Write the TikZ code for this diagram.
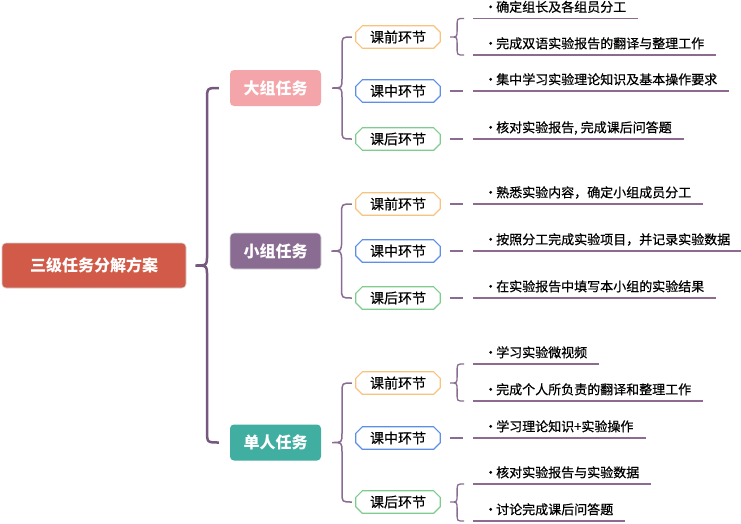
\documentclass[tikz,border=0pt]{standalone}
\usepackage{fontspec}
\setmainfont{Noto Sans CJK SC}
\newfontfamily\heavycjk{Noto Sans CJK SC}[FakeBold=0.5]
\usetikzlibrary{calc}
\definecolor{rootc}{HTML}{D15A48}
\definecolor{pinkc}{HTML}{F4A5AA}
\definecolor{purpc}{HTML}{8A6C92}
\definecolor{tealc}{HTML}{40AEA1}
\definecolor{cq}{HTML}{F8C37F}
\definecolor{cz}{HTML}{5E8FE8}
\definecolor{ch}{HTML}{80CC8E}
\definecolor{bracec}{HTML}{76587E}
\definecolor{linec}{HTML}{8E6A90}
\newcommand\leafdot{\makebox[11pt][l]{\hspace{-1pt}·}}
\newcommand\curlybrace[4]{\draw[#1] let \p1=#2, \p2=#3, \p3=#4,
  \n1={0.5*(\x1+\x2)}, \n2={0.5*(\x2-\x1)} in
  (\x2,\y2) .. controls (\n1,\y2) .. (\n1,\y2-\n2) -- (\n1,\y1+\n2)
  .. controls (\n1,\y1) .. (\x1,\y1) .. controls (\n1,\y1) .. (\n1,\y1-\n2)
  -- (\n1,\y3+\n2) .. controls (\n1,\y3) .. (\x2,\y3);}
\tikzset{
  rootbox/.style={fill=rootc, draw=black!18, line width=0.6pt, rounded corners=4pt,
    minimum width=184pt, minimum height=45pt, inner sep=0pt, text=white,
    font=\fontsize{16}{19}\selectfont\bfseries},
  grpbox/.style={fill=#1, rounded corners=4pt, minimum width=91pt, minimum height=36pt,
    inner sep=0pt, text=white, font=\fontsize{16}{19}\selectfont\bfseries},
  stagebox/.style={minimum width=84pt, minimum height=22pt, inner sep=0pt,
    font=\fontsize{14}{16}\selectfont\heavycjk},
  stageline/.style={line width=1.2pt},
  leaf/.style={anchor=south west, inner xsep=12pt, inner ysep=3.5pt,
    text height=10pt, text depth=3pt, font=\fontsize{13}{15}\selectfont\heavycjk},
  uline/.style={draw=linec, line width=1.5pt},
  mainbrace/.style={draw=bracec, line width=2.5pt},
  subbrace/.style={draw=purpc, line width=1.5pt},
  smallbrace/.style={draw=purpc, line width=1.3pt},
  conn/.style={draw=purpc, line width=1.5pt},
}
\begin{document}
\begin{tikzpicture}[x=1pt,y=1pt]
\fill[white] (0,0) rectangle (741,-523);
\useasboundingbox (0,0) rectangle (741,-523);
% root and groups
\node[rootbox] (root) at (94,-265.5) {三级任务分解方案};
\node[grpbox=pinkc] (g1) at (275.5,-88) {大组任务};
\node[grpbox=purpc, draw=black!15, line width=0.6pt] (g2) at (275.5,-251) {小组任务};
\node[grpbox=tealc] (g3) at (275.5,-442.5) {单人任务};
% stages
\node[stagebox] (s11) at (398,-37) {课前环节};
\node[stagebox] (s12) at (398,-91) {课中环节};
\node[stagebox] (s13) at (398,-139) {课后环节};
\node[stagebox] (s21) at (398,-204) {课前环节};
\node[stagebox] (s22) at (398,-251) {课中环节};
\node[stagebox] (s23) at (398,-298) {课后环节};
\node[stagebox] (s31) at (398,-383) {课前环节};
\node[stagebox] (s32) at (398,-438) {课中环节};
\node[stagebox] (s33) at (398,-502) {课后环节};
\foreach \n/\c in {s11/cq,s12/cz,s13/ch,s21/cq,s22/cz,s23/ch,s31/cq,s32/cz,s33/ch}{
  \draw[stageline, draw=\c]
    ($(\n.north west)+(6.5,0)$) -- ($(\n.north east)+(-6.5,0)$) -- ($(\n.north east)+(0,-6.5)$)
    -- ($(\n.south east)+(0,6.5)$) -- ($(\n.south east)+(-6.5,0)$) -- ($(\n.south west)+(6.5,0)$)
    -- ($(\n.south west)+(0,6.5)$) -- ($(\n.north west)+(0,-6.5)$) -- cycle;
}
% leaves
\node[leaf] (l1) at (473,-18.5) {\leafdot 确定组长及各组员分工};
\node[leaf] (l2) at (473,-55) {\leafdot 完成双语实验报告的翻译与整理工作};
\node[leaf] (l3) at (473,-91) {\leafdot 集中学习实验理论知识及基本操作要求};
\node[leaf] (l4) at (473,-139) {\leafdot 核对实验报告, 完成课后问答题};
\node[leaf] (l5) at (473,-204) {\leafdot 熟悉实验内容，确定小组成员分工};
\node[leaf] (l6) at (473,-251) {\leafdot 按照分工完成实验项目，并记录实验数据};
\node[leaf] (l7) at (473,-298) {\leafdot 在实验报告中填写本小组的实验结果};
\node[leaf] (l8) at (473,-364) {\leafdot 学习实验微视频};
\node[leaf] (l9) at (473,-401) {\leafdot 完成个人所负责的翻译和整理工作};
\node[leaf] (l10) at (473,-438) {\leafdot 学习理论知识+实验操作};
\node[leaf] (l11) at (473,-484) {\leafdot 核对实验报告与实验数据};
\node[leaf] (l12) at (473,-521) {\leafdot 讨论完成课后问答题};
\foreach \l in {l1,l2,l3,l4,l5,l6,l7,l8,l9,l10,l11,l12}{
  \draw[uline] (\l.south west) -- (\l.south east);
}
% braces
\curlybrace{mainbrace}{($(root.east)+(9,0)$)}{($(g1.west)+(-11,0)$)}{($(g3.west)+(-11,0)$)}
\curlybrace{subbrace}{($(g1.east)+(11,0)$)}{($(s11.west)+(-4,0)$)}{($(s13.west)+(-4,0)$)}
\curlybrace{subbrace}{($(g2.east)+(10,0)$)}{($(s21.west)+(-4,0)$)}{($(s23.west)+(-4,0)$)}
\curlybrace{subbrace}{($(g3.east)+(11,0)$)}{($(s31.west)+(-4,0)$)}{($(s33.west)+(-4,0)$)}
\curlybrace{smallbrace}{($(s11.east)+(10,0)$)}{($(l1.south west)+(-9,0)$)}{($(l2.south west)+(-9,0)$)}
\curlybrace{smallbrace}{($(s31.east)+(10,0)$)}{($(l8.south west)+(-9,0)$)}{($(l9.south west)+(-9,0)$)}
\curlybrace{smallbrace}{($(s33.east)+(10,0)$)}{($(l11.south west)+(-9,0)$)}{($(l12.south west)+(-9,0)$)}
% single connectors
\foreach \s/\l in {s12/l3,s13/l4,s21/l5,s22/l6,s23/l7,s32/l10}{
  \draw[conn] ($(\s.east)+(10,0)$) -- ($(\s.east -| \l.south west)+(-10,0)$);
}
\end{tikzpicture}
\end{document}
